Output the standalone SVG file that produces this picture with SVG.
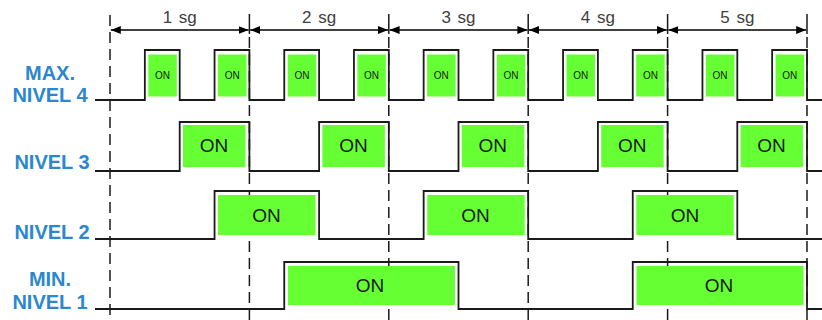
<svg xmlns="http://www.w3.org/2000/svg" width="822" height="320" viewBox="0 0 822 320">
<defs>
<marker id="ah" viewBox="0 0 10 8" refX="10" refY="4" markerWidth="10" markerHeight="8" markerUnits="userSpaceOnUse" orient="auto-start-reverse">
<path d="M0,0 L10,4 L0,8 Z" fill="#000"/>
</marker>
</defs>
<style>
.lbl{font-family:"Liberation Sans",Arial,sans-serif;font-weight:bold;font-size:20px;fill:#2B87CF;text-anchor:middle}
.sec{font-family:"Liberation Sans",Arial,sans-serif;font-size:17px;fill:#404040;text-anchor:middle;word-spacing:2px}
.sig{fill:none;stroke:#1a1a1a;stroke-width:1.8}
.on{fill:#66FF33}
.t{font-family:"Liberation Sans",Arial,sans-serif;fill:#1a1a1a;text-anchor:middle}
.ts{font-size:10px}
.tb{font-size:19px}
.dash{stroke:#1a1a1a;stroke-width:1.5;stroke-dasharray:11,6}
.tick{stroke:#1a1a1a;stroke-width:1.5}
.arr{stroke:#000;stroke-width:1.5;marker-start:url(#ah);marker-end:url(#ah)}
</style>
<rect width="822" height="320" fill="#fff"/>

<g id="grid">
<line class="dash" x1="110" y1="15" x2="110" y2="320"/>
<line class="tick" x1="249.4" y1="14" x2="249.4" y2="34"/>
<line class="dash" x1="249.4" y1="37" x2="249.4" y2="320"/>
<line class="tick" x1="388.8" y1="14" x2="388.8" y2="34"/>
<line class="dash" x1="388.8" y1="37" x2="388.8" y2="320"/>
<line class="tick" x1="528.2" y1="14" x2="528.2" y2="34"/>
<line class="dash" x1="528.2" y1="37" x2="528.2" y2="320"/>
<line class="tick" x1="667.6" y1="14" x2="667.6" y2="34"/>
<line class="dash" x1="667.6" y1="37" x2="667.6" y2="320"/>
<line class="tick" x1="807" y1="14" x2="807" y2="34"/>
<line class="dash" x1="807" y1="37" x2="807" y2="320"/>
</g>

<g id="connectors">
<line class="arr" x1="110.8" y1="30" x2="248.6" y2="30"/>
<line class="arr" x1="250.2" y1="30" x2="388" y2="30"/>
<line class="arr" x1="389.6" y1="30" x2="527.4" y2="30"/>
<line class="arr" x1="529" y1="30" x2="666.8" y2="30"/>
<line class="arr" x1="668.4" y1="30" x2="806.2" y2="30"/>
</g>

<g id="seconds">
<text class="sec" x="179.7" y="23">1 sg</text>
<text class="sec" x="319.1" y="23">2 sg</text>
<text class="sec" x="458.5" y="23">3 sg</text>
<text class="sec" x="597.9" y="23">4 sg</text>
<text class="sec" x="737.3" y="23">5 sg</text>
</g>

<g id="nivel4">
<text class="lbl" x="50" y="80">MAX.</text>
<text class="lbl" x="50" y="102">NIVEL 4</text>
<rect class="on" x="148.3" y="54.5" width="28.5" height="42"/>
<rect class="on" x="218" y="54.5" width="28.5" height="42"/>
<rect class="on" x="287.7" y="54.5" width="28.5" height="42"/>
<rect class="on" x="357.4" y="54.5" width="28.5" height="42"/>
<rect class="on" x="427.1" y="54.5" width="28.5" height="42"/>
<rect class="on" x="496.8" y="54.5" width="28.5" height="42"/>
<rect class="on" x="566.5" y="54.5" width="28.5" height="42"/>
<rect class="on" x="636.2" y="54.5" width="28.5" height="42"/>
<rect class="on" x="705.9" y="54.5" width="28.5" height="42"/>
<rect class="on" x="775.6" y="54.5" width="28.5" height="42"/>
<text class="t ts" x="162.5" y="79">ON</text>
<text class="t ts" x="232.2" y="79">ON</text>
<text class="t ts" x="301.9" y="79">ON</text>
<text class="t ts" x="371.6" y="79">ON</text>
<text class="t ts" x="441.3" y="79">ON</text>
<text class="t ts" x="511" y="79">ON</text>
<text class="t ts" x="580.7" y="79">ON</text>
<text class="t ts" x="650.4" y="79">ON</text>
<text class="t ts" x="720.1" y="79">ON</text>
<text class="t ts" x="789.8" y="79">ON</text>
<path class="sig" d="M95,100 H144.85 V50 H179.7 V100 H214.55 V50 H249.4 V100 H284.25 V50 H319.1 V100 H353.95 V50 H388.8 V100 H423.65 V50 H458.5 V100 H493.35 V50 H528.2 V100 H563.05 V50 H597.9 V100 H632.75 V50 H667.6 V100 H702.45 V50 H737.3 V100 H772.15 V50 H807 V100 H822"/>
</g>

<g id="nivel3">
<text class="lbl" x="52" y="169">NIVEL 3</text>
<rect class="on" x="183" y="125" width="62.5" height="42"/>
<rect class="on" x="322.4" y="125" width="62.5" height="42"/>
<rect class="on" x="461.8" y="125" width="62.5" height="42"/>
<rect class="on" x="601.2" y="125" width="62.5" height="42"/>
<rect class="on" x="740.6" y="125" width="62.5" height="42"/>
<text class="t tb" x="214" y="152">ON</text>
<text class="t tb" x="353.4" y="152">ON</text>
<text class="t tb" x="492.8" y="152">ON</text>
<text class="t tb" x="632.2" y="152">ON</text>
<text class="t tb" x="771.6" y="152">ON</text>
<path class="sig" d="M95,171 H179.7 V122 H249.4 V171 H319.1 V122 H388.8 V171 H458.5 V122 H528.2 V171 H597.9 V122 H667.6 V171 H737.3 V122 H807 V171 H822"/>
</g>

<g id="nivel2">
<text class="lbl" x="52" y="239">NIVEL 2</text>
<rect class="on" x="218" y="195" width="97.5" height="40"/>
<rect class="on" x="427.2" y="195" width="97.5" height="40"/>
<rect class="on" x="636.3" y="195" width="97.5" height="40"/>
<text class="t tb" x="266.5" y="222">ON</text>
<text class="t tb" x="475.5" y="222">ON</text>
<text class="t tb" x="685" y="222">ON</text>
<path class="sig" d="M95,239 H214.55 V191 H319.1 V239 H423.65 V191 H528.2 V239 H632.75 V191 H737.3 V239 H822"/>
</g>

<g id="nivel1">
<text class="lbl" x="50" y="286">MIN.</text>
<text class="lbl" x="50" y="309">NIVEL 1</text>
<rect class="on" x="288" y="266" width="167" height="39"/>
<rect class="on" x="636.5" y="266" width="167" height="39"/>
<text class="t tb" x="370" y="292">ON</text>
<text class="t tb" x="719" y="292">ON</text>
<path class="sig" d="M95,309 H284.25 V262 H458.5 V309 H632.75 V262 H807 V309 H822"/>
</g>
</svg>
